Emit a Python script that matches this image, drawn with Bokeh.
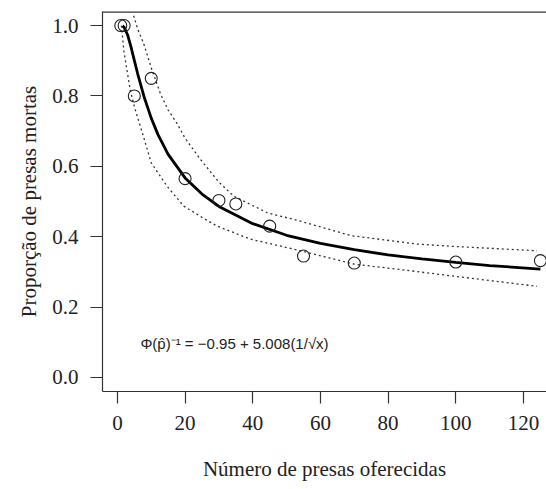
from bokeh.plotting import figure
from bokeh.models import Range1d, FixedTicker
from bokeh.core.properties import value
from bokeh.embed import file_html
from bokeh.resources import INLINE

# observed proportions
x_obs = [1, 2, 5, 10, 20, 30, 35, 45, 55, 70, 100, 125]
y_obs = [1.0, 1.0, 0.80, 0.85, 0.565, 0.503, 0.493, 0.43, 0.345, 0.325, 0.328, 0.332]

# fitted probit curve
fit_x = [1.5, 2, 3, 4, 5, 6, 8, 10, 12, 15, 20, 25, 30, 40, 50, 60, 70, 80, 90, 100, 110, 125]
fit_y = [0.999, 0.995, 0.974, 0.940, 0.901, 0.863, 0.794, 0.737, 0.690, 0.634, 0.567, 0.521,
         0.486, 0.437, 0.404, 0.381, 0.363, 0.348, 0.337, 0.327, 0.318, 0.308]

# upper confidence band
up_x = [4.8, 6, 7.8, 10, 12.7, 15, 17.6, 20, 24.5, 30, 34.4, 44.3, 54.1, 69, 88.6, 100, 124]
up_y = [1.028, 0.99, 0.948, 0.88, 0.807, 0.76, 0.722, 0.68, 0.62, 0.555, 0.515, 0.468, 0.444,
        0.403, 0.379, 0.372, 0.360]

# lower confidence band
lo_x = [1.2, 1.9, 3.8, 5, 6.8, 8, 10, 14.7, 19.6, 25, 29.5, 39.3, 54.1, 70, 85, 98.4, 124]
lo_y = [1.0, 0.929, 0.816, 0.77, 0.713, 0.675, 0.61, 0.543, 0.487, 0.455, 0.43, 0.393, 0.36,
        0.322, 0.305, 0.289, 0.259]

x_ticks = [0, 20, 40, 60, 80, 100, 120]
y_ticks = [0.0, 0.2, 0.4, 0.6, 0.8, 1.0]
y_tick_labels = ["0.0", "0.2", "0.4", "0.6", "0.8", "1.0"]

formula = "Φ(p̂)⁻¹ = −0.95 + 5.008(1/√x)"
formula_x = [6.8]
formula_y = [0.096]

INK = "#222222"
SERIF = "Liberation Serif"

xr = Range1d(-4.4, 126.8)
yr = Range1d(-0.04, 1.04)

p = figure(width=546, height=489, output_backend="svg", toolbar_location=None,
           x_range=xr, y_range=yr,
           min_border_left=102, min_border_right=0, min_border_top=11, min_border_bottom=98)
p.outline_line_color = None
p.grid.visible = False
p.background_fill_color = "white"

# top edge of the R-style box (its right side is cropped in the reference)
p.line(x=[xr.start, xr.end], y=[yr.end, yr.end], line_color="#333333", line_width=2.6)

# data
p.line(fit_x, fit_y, line_color="black", line_width=2.8)
p.line(up_x, up_y, line_color="#333333", line_width=1.3, line_dash="2 3")
p.line(lo_x, lo_y, line_color="#333333", line_width=1.3, line_dash="2 3")
p.scatter(x_obs, y_obs, marker="circle", size=12, fill_color=None, line_color=INK, line_width=1.1)

p.text(x=formula_x, y=formula_y, text=[formula], text_font=value("Liberation Sans"),
       text_font_size="15px", text_color=INK, text_baseline="middle", text_align="left")

# axes
for ax in (p.xaxis[0], p.yaxis[0]):
    ax.axis_line_color = "#333333"
    ax.axis_line_width = 1.2
    ax.major_tick_line_color = "#333333"
    ax.major_tick_line_width = 1.2
    ax.major_tick_out = 12
    ax.major_tick_in = 0
    ax.minor_tick_out = 0
    ax.minor_tick_in = 0
    ax.major_label_text_font = SERIF
    ax.major_label_text_font_size = "21px"
    ax.major_label_text_color = INK
    ax.axis_label_text_font = SERIF
    ax.axis_label_text_font_size = "21px"
    ax.axis_label_text_font_style = "normal"
    ax.axis_label_text_color = INK

p.xaxis.ticker = FixedTicker(ticks=x_ticks)
p.xaxis.axis_label = "Número de presas oferecidas"
p.xaxis.major_label_standoff = 12
p.xaxis.axis_label_standoff = 24

p.yaxis.ticker = FixedTicker(ticks=y_ticks)
p.yaxis.major_label_overrides = {t: l for t, l in zip(y_ticks, y_tick_labels)}
p.yaxis.major_label_orientation = "horizontal"
p.yaxis.axis_label = "Proporção de presas mortas"
p.yaxis.major_label_standoff = 12
p.yaxis.axis_label_standoff = 8

open("out.html", "w").write(file_html(p, INLINE))
